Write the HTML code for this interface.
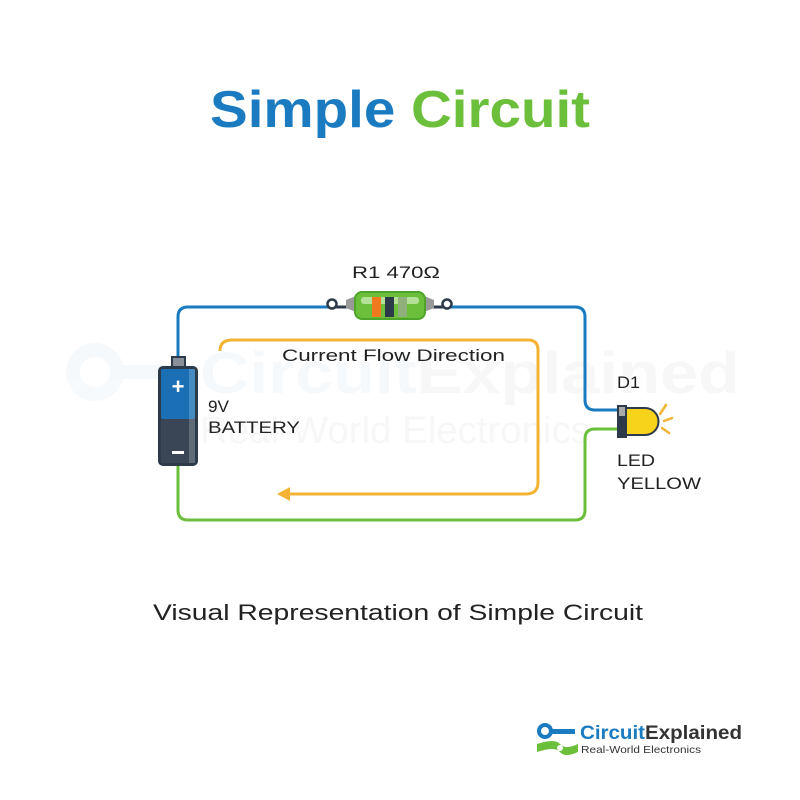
<!DOCTYPE html>
<html><head><meta charset="utf-8"><style>
html,body{margin:0;padding:0;background:#fff}
svg{display:block}
text{font-family:"Liberation Sans",sans-serif}
</style></head><body>
<svg width="800" height="800" viewBox="0 0 800 800">
<!-- watermark -->
<g opacity="0.035">
<circle cx="95" cy="372" r="22" fill="none" stroke="#1a7bc0" stroke-width="14"/>
<rect x="110" y="365" width="80" height="14" fill="#1a7bc0"/>
<text x="200" y="393" font-size="58" font-weight="bold" fill="#1a7bc0" textLength="540" lengthAdjust="spacingAndGlyphs">Circuit<tspan fill="#333">Explained</tspan></text>
<text x="200" y="443" font-size="38" fill="#333" textLength="390" lengthAdjust="spacingAndGlyphs">Real-World Electronics</text>
</g>
<text x="210" y="127" font-size="52" font-weight="bold" fill="#1a7bc0" textLength="380" lengthAdjust="spacingAndGlyphs">Simple <tspan fill="#6bbf3a">Circuit</tspan></text>

<!-- blue wire -->
<path d="M178 358 V317 Q178 307 188 307 H330 M448 307 H575 Q585 307 585 317 V400 Q585 410 595 410 H620" fill="none" stroke="#1a7bc0" stroke-width="3"/>
<!-- green wire -->
<path d="M178 466 V510 Q178 520 188 520 H575 Q585 520 585 510 V439 Q585 429 595 429 H620" fill="none" stroke="#6bbf3a" stroke-width="3"/>
<!-- orange current -->
<path d="M220 351 Q220 340 232 340 H528 Q538 340 538 350 V482 Q538 494 526 494 H285" fill="none" stroke="#f5b335" stroke-width="3"/>
<path d="M277 494 L290 487 L290 501 Z" fill="#f5b335"/>
<text x="282" y="361" font-size="17" fill="#222" textLength="223" lengthAdjust="spacingAndGlyphs">Current Flow Direction</text>

<!-- resistor -->
<line x1="330" y1="307" x2="448" y2="307" stroke="#2d3a4a" stroke-width="3"/>
<circle cx="332" cy="304" r="4.5" fill="#fff" stroke="#2d3a4a" stroke-width="2.5"/>
<circle cx="447" cy="304" r="4.5" fill="#fff" stroke="#2d3a4a" stroke-width="2.5"/>
<polygon points="346,300 356,296 356,312 346,308" fill="#999"/>
<polygon points="434,300 424,296 424,312 434,308" fill="#999"/>
<rect x="355" y="292" width="70" height="27" rx="7" fill="#6bbf3a" stroke="#4ea52a" stroke-width="2"/>
<rect x="361" y="297" width="58" height="7" rx="3" fill="#c8e8b0" opacity="0.8"/>
<rect x="372" y="297" width="9" height="20" fill="#f07b1f"/>
<rect x="385" y="297" width="9" height="20" fill="#2d3a4a"/>
<rect x="398" y="297" width="9" height="20" fill="#8fb07a"/>
<text x="352" y="278" font-size="17" fill="#222" textLength="88" lengthAdjust="spacingAndGlyphs">R1  470Ω</text>

<!-- battery -->
<rect x="172" y="357" width="13" height="10" fill="#8a9099" stroke="#2d3a4a" stroke-width="2"/>
<rect x="158" y="366" width="40" height="100" rx="5" fill="#2d3a4a"/>
<rect x="161" y="369" width="34" height="50" rx="2" fill="#1a6fb5"/>
<rect x="161" y="419" width="34" height="44" rx="2" fill="#3a4656"/>
<rect x="189" y="369" width="6" height="94" fill="#fff" opacity="0.2"/>
<text x="178" y="394" font-size="22" font-weight="bold" fill="#fff" text-anchor="middle">+</text>
<rect x="172" y="451" width="12" height="3" fill="#fff"/>
<text x="208" y="412" font-size="17" fill="#222" textLength="21" lengthAdjust="spacingAndGlyphs">9V</text>
<text x="208" y="433" font-size="17" fill="#222" textLength="92" lengthAdjust="spacingAndGlyphs">BATTERY</text>

<!-- LED -->
<path d="M626 408 H645 A13 13 0 0 1 645 435 H626 Z" fill="#f8d31c" stroke="#2d3a4a" stroke-width="2"/>
<rect x="617" y="405" width="10" height="33" fill="#2d3a4a"/>
<rect x="619" y="407" width="6" height="9" fill="#aaa"/>
<g stroke="#f5b335" stroke-width="2.5" stroke-linecap="round">
<line x1="660" y1="414" x2="666" y2="405"/><line x1="664" y1="421" x2="672" y2="418"/><line x1="662" y1="428" x2="669" y2="433"/>
</g>
<text x="617" y="388" font-size="17" fill="#222" textLength="23" lengthAdjust="spacingAndGlyphs">D1</text>
<text x="617" y="466" font-size="17" fill="#222" textLength="38" lengthAdjust="spacingAndGlyphs">LED</text>
<text x="617" y="489" font-size="17" fill="#222" textLength="84" lengthAdjust="spacingAndGlyphs">YELLOW</text>

<text x="153" y="620" font-size="22" fill="#222" textLength="490" lengthAdjust="spacingAndGlyphs">Visual Representation of Simple Circuit</text>

<!-- logo -->
<circle cx="545" cy="731" r="6" fill="none" stroke="#1a7bc0" stroke-width="4"/>
<rect x="550" y="729" width="25" height="5" fill="#1a7bc0"/>
<path d="M537 744 Q555 738 560 744 Q565 750 578 744 V752 Q565 758 560 752 Q555 746 537 752 Z" fill="#6bbf3a"/>
<circle cx="560" cy="748" r="3" fill="#fff"/>
<text x="580" y="739" font-size="19" font-weight="bold" fill="#1a7bc0" textLength="162" lengthAdjust="spacingAndGlyphs">Circuit<tspan fill="#333">Explained</tspan></text>
<text x="581" y="753" font-size="10.5" fill="#333" textLength="120" lengthAdjust="spacingAndGlyphs">Real-World Electronics</text>
</svg>
</body></html>
